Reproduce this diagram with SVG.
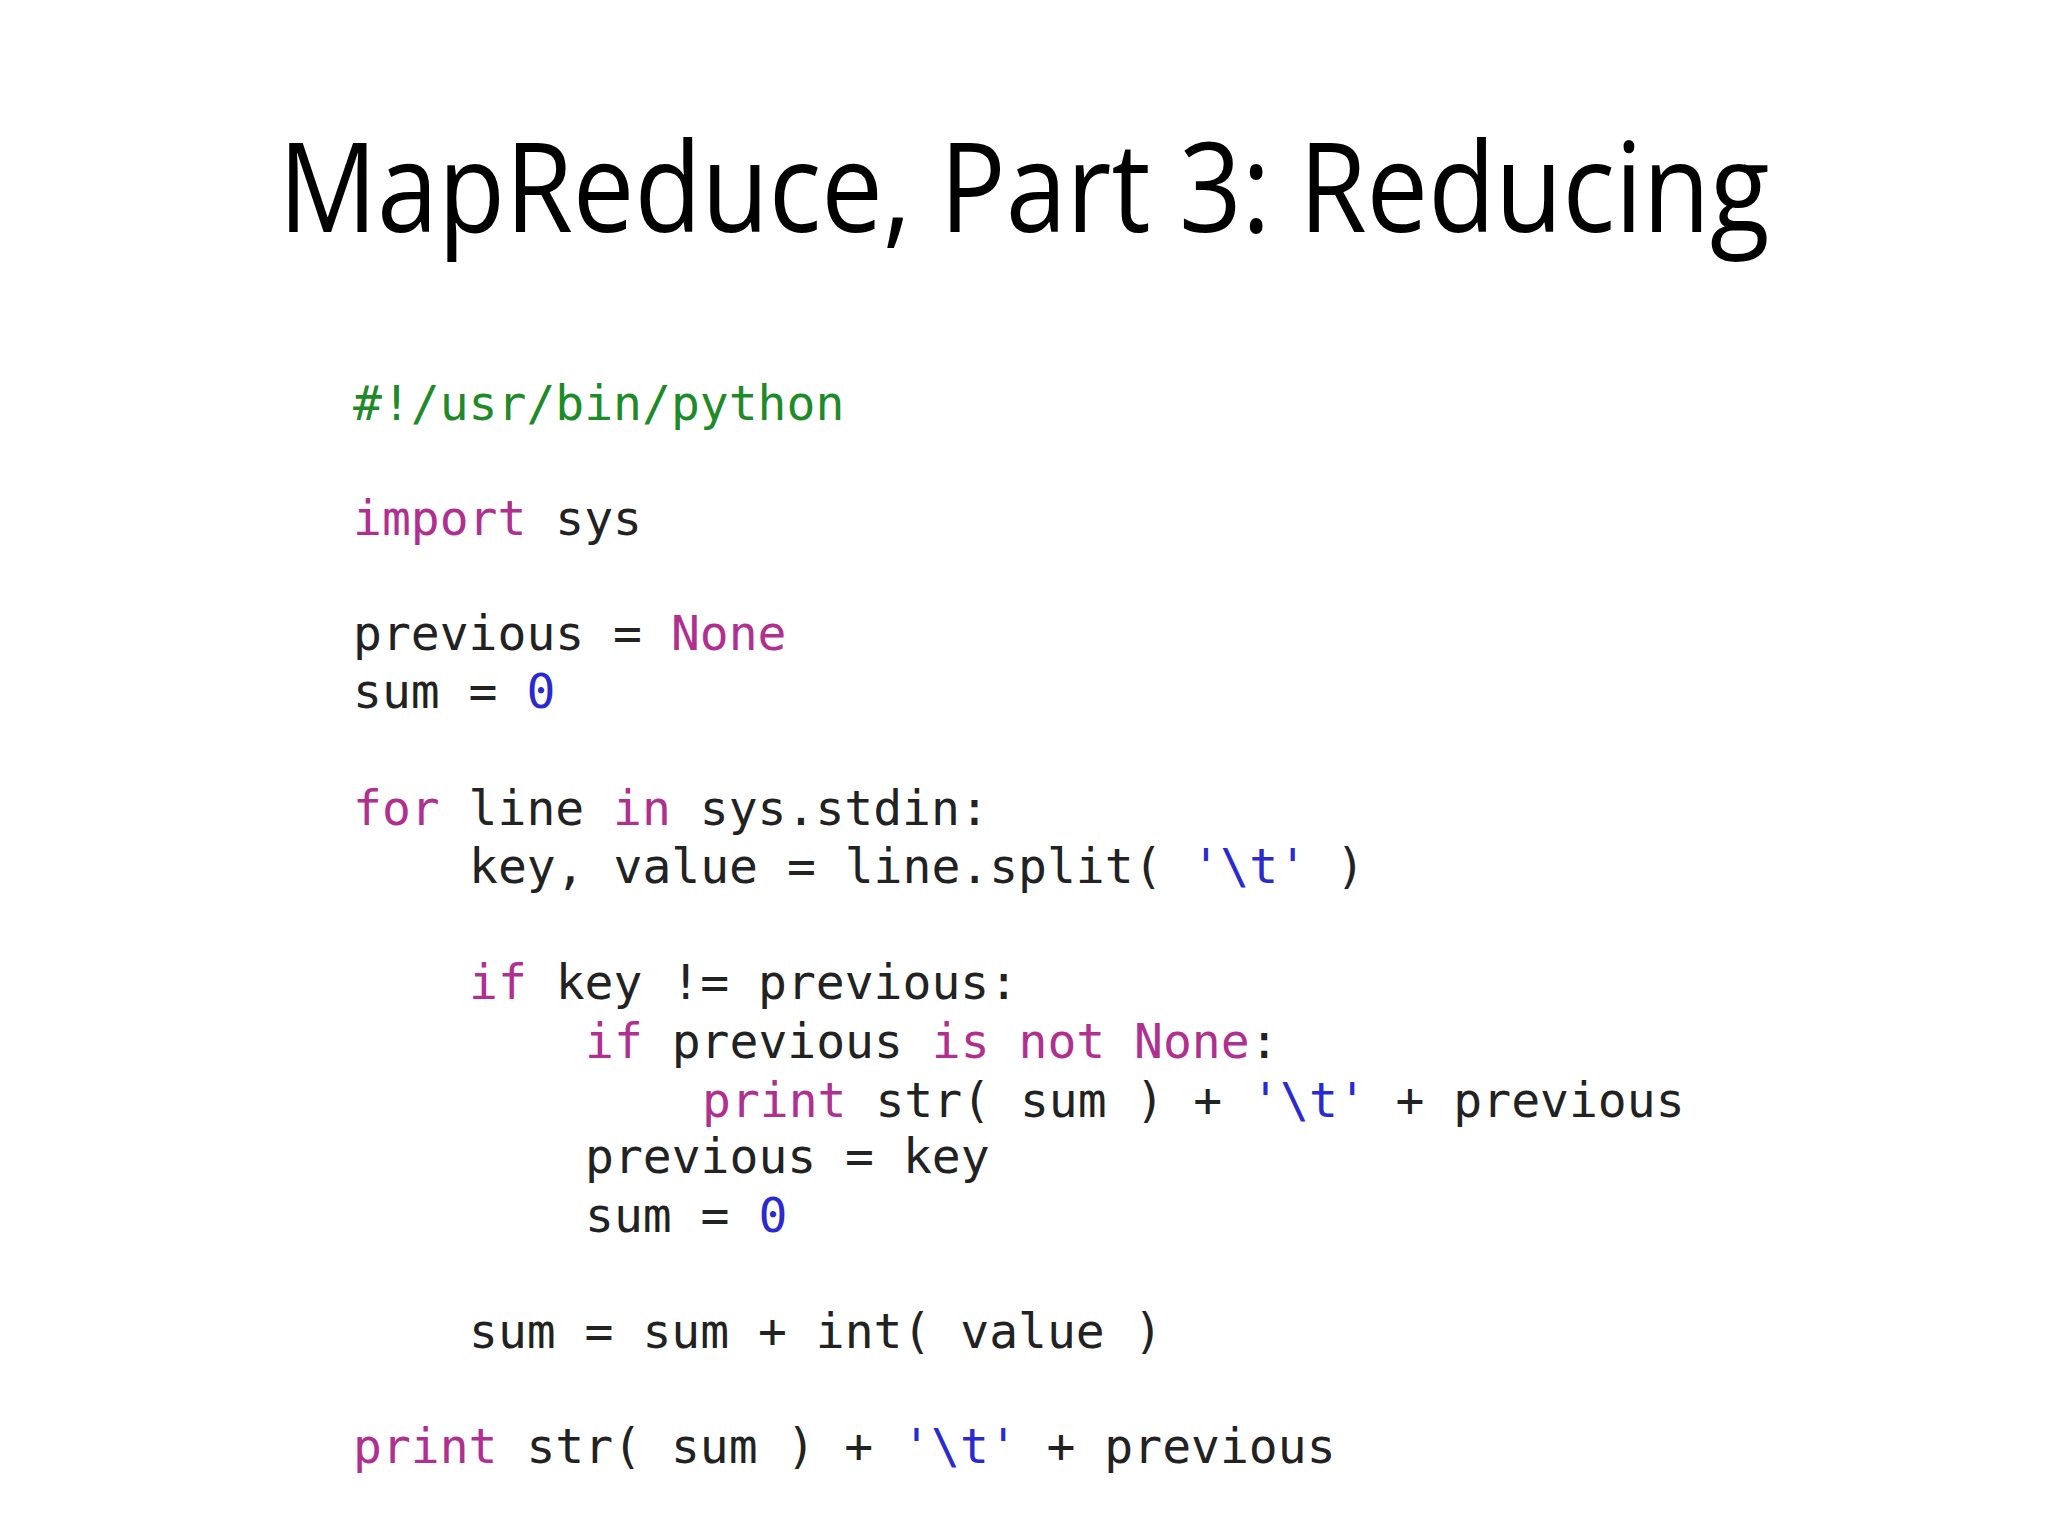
<svg xmlns="http://www.w3.org/2000/svg" width="2048" height="1536" viewBox="0 0 2048 1536">
<style>
.t{font-family:"Open Sans","Liberation Sans",sans-serif;font-size:124px;fill:#000}
.c{font-family:"DejaVu Sans Mono","Liberation Mono",monospace;font-size:48px;fill:#222}
.k{fill:#b0308f}.n{fill:#2a2ad0}.g{fill:#1f8a2a}
</style>
<rect width="2048" height="1536" fill="#fff"/>
<text class="t" x="1024" y="232" text-anchor="middle" textLength="1491" lengthAdjust="spacingAndGlyphs">MapReduce, Part 3: Reducing</text>
<g id="code" xml:space="preserve">
<text class="c g" x="353" y="420">#!/usr/bin/python</text>
<text class="c" x="353" y="535"><tspan class="k">import</tspan> sys</text>
<text class="c" x="353" y="650">previous = <tspan class="k">None</tspan></text>
<text class="c" x="353" y="708">sum = <tspan class="n">0</tspan></text>
<text class="c" x="353" y="825"><tspan class="k">for</tspan> line <tspan class="k">in</tspan> sys.stdin:</text>
<text class="c" x="469" y="883">key, value = line.split( <tspan class="n">'\t'</tspan> )</text>
<text class="c" x="469" y="999"><tspan class="k">if</tspan> key != previous:</text>
<text class="c" x="585" y="1058"><tspan class="k">if</tspan> previous <tspan class="k">is not None</tspan>:</text>
<text class="c" x="702" y="1117"><tspan class="k">print</tspan> str( sum ) + <tspan class="n">'\t'</tspan> + previous</text>
<text class="c" x="585" y="1173">previous = key</text>
<text class="c" x="585" y="1232">sum = <tspan class="n">0</tspan></text>
<text class="c" x="469" y="1348">sum = sum + int( value )</text>
<text class="c" x="353" y="1463"><tspan class="k">print</tspan> str( sum ) + <tspan class="n">'\t'</tspan> + previous</text>
</g>
</svg>
